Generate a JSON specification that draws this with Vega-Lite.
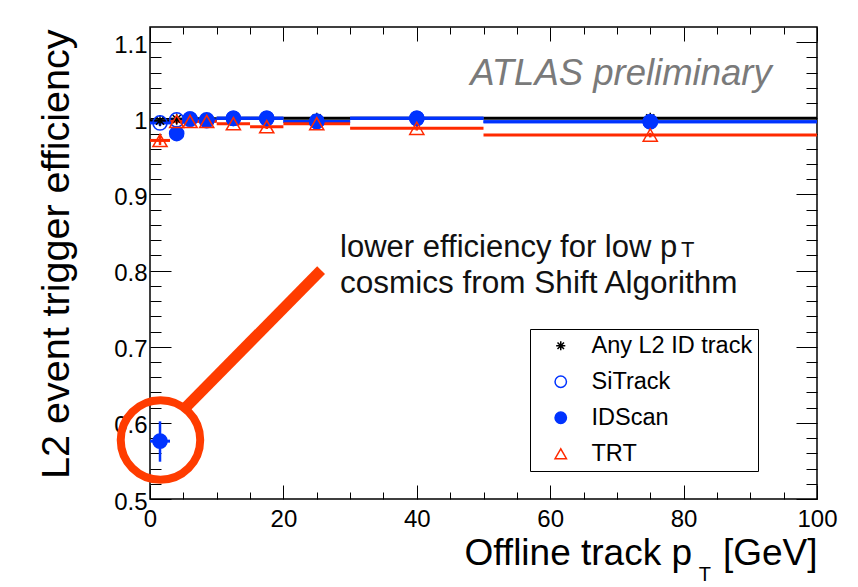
{
  "$schema": "https://vega.github.io/schema/vega-lite/v6.json",
  "width": 667,
  "height": 472,
  "autosize": {"type": "none"},
  "padding": {"left": 150, "top": 27, "right": 41, "bottom": 88},
  "background": "#ffffff",
  "config": {
    "view": {"stroke": "#000000", "strokeWidth": 1.5},
    "font": "Liberation Sans",
    "axis": {
      "domain": false, "grid": false, "tickColor": "#000000", "tickWidth": 1,
      "labelFont": "Liberation Sans", "labelColor": "#000000", "labelFontSize": 24,
      "labelFlush": false, "labelOverlap": false,
      "titleFont": "Liberation Sans", "titleColor": "#000000", "titleFontSize": 38, "titleFontWeight": "normal"
    }
  },
  "data": {"values": [
    {"s": "Any L2 ID track", "lo": 0, "hi": 3, "xc": 1.5, "eff": 0.997, "elo": 0.994, "ehi": 0.999},
    {"s": "Any L2 ID track", "lo": 3, "hi": 5, "xc": 4, "eff": 0.999, "elo": 0.997, "ehi": 1.0},
    {"s": "Any L2 ID track", "lo": 5, "hi": 7, "xc": 6, "eff": 0.9995, "elo": 0.998, "ehi": 1.0},
    {"s": "Any L2 ID track", "lo": 7, "hi": 10, "xc": 8.5, "eff": 0.9995, "elo": 0.998, "ehi": 1.0},
    {"s": "Any L2 ID track", "lo": 10, "hi": 15, "xc": 12.5, "eff": 1.0, "elo": 0.999, "ehi": 1.0},
    {"s": "Any L2 ID track", "lo": 15, "hi": 20, "xc": 17.5, "eff": 1.0, "elo": 0.999, "ehi": 1.0},
    {"s": "Any L2 ID track", "lo": 20, "hi": 30, "xc": 25, "eff": 1.0, "elo": 0.999, "ehi": 1.0},
    {"s": "Any L2 ID track", "lo": 30, "hi": 50, "xc": 40, "eff": 1.0, "elo": 0.999, "ehi": 1.0},
    {"s": "Any L2 ID track", "lo": 50, "hi": 100, "xc": 75, "eff": 1.0, "elo": 0.999, "ehi": 1.0},
    {"s": "SiTrack", "lo": 0, "hi": 3, "xc": 1.5, "eff": 0.994, "elo": 0.99, "ehi": 0.997},
    {"s": "SiTrack", "lo": 3, "hi": 5, "xc": 4, "eff": 0.998, "elo": 0.996, "ehi": 0.999},
    {"s": "SiTrack", "lo": 5, "hi": 7, "xc": 6, "eff": 0.999, "elo": 0.997, "ehi": 1.0},
    {"s": "SiTrack", "lo": 7, "hi": 10, "xc": 8.5, "eff": 0.998, "elo": 0.996, "ehi": 0.999},
    {"s": "SiTrack", "lo": 10, "hi": 15, "xc": 12.5, "eff": 1.0, "elo": 0.999, "ehi": 1.0},
    {"s": "SiTrack", "lo": 15, "hi": 20, "xc": 17.5, "eff": 1.0, "elo": 0.999, "ehi": 1.0},
    {"s": "SiTrack", "lo": 20, "hi": 30, "xc": 25, "eff": 0.996, "elo": 0.993, "ehi": 0.998},
    {"s": "SiTrack", "lo": 30, "hi": 50, "xc": 40, "eff": 1.0, "elo": 0.999, "ehi": 1.0},
    {"s": "SiTrack", "lo": 50, "hi": 100, "xc": 75, "eff": 0.9955, "elo": 0.992, "ehi": 0.998},
    {"s": "IDScan", "lo": 0, "hi": 3, "xc": 1.5, "eff": 0.576, "elo": 0.549, "ehi": 0.602},
    {"s": "IDScan", "lo": 3, "hi": 5, "xc": 4, "eff": 0.98, "elo": 0.975, "ehi": 0.985},
    {"s": "IDScan", "lo": 5, "hi": 7, "xc": 6, "eff": 0.999, "elo": 0.997, "ehi": 1.0},
    {"s": "IDScan", "lo": 7, "hi": 10, "xc": 8.5, "eff": 0.997, "elo": 0.995, "ehi": 0.999},
    {"s": "IDScan", "lo": 10, "hi": 15, "xc": 12.5, "eff": 1.0, "elo": 0.999, "ehi": 1.0},
    {"s": "IDScan", "lo": 15, "hi": 20, "xc": 17.5, "eff": 1.0, "elo": 0.999, "ehi": 1.0},
    {"s": "IDScan", "lo": 20, "hi": 30, "xc": 25, "eff": 0.996, "elo": 0.993, "ehi": 0.998},
    {"s": "IDScan", "lo": 30, "hi": 50, "xc": 40, "eff": 1.0, "elo": 0.999, "ehi": 1.0},
    {"s": "IDScan", "lo": 50, "hi": 100, "xc": 75, "eff": 0.9955, "elo": 0.992, "ehi": 0.998},
    {"s": "TRT", "lo": 0, "hi": 3, "xc": 1.5, "eff": 0.971, "elo": 0.965, "ehi": 0.977},
    {"s": "TRT", "lo": 3, "hi": 5, "xc": 4, "eff": 0.996, "elo": 0.993, "ehi": 0.998},
    {"s": "TRT", "lo": 5, "hi": 7, "xc": 6, "eff": 0.996, "elo": 0.993, "ehi": 0.998},
    {"s": "TRT", "lo": 7, "hi": 10, "xc": 8.5, "eff": 0.996, "elo": 0.993, "ehi": 0.998},
    {"s": "TRT", "lo": 10, "hi": 15, "xc": 12.5, "eff": 0.993, "elo": 0.99, "ehi": 0.996},
    {"s": "TRT", "lo": 15, "hi": 20, "xc": 17.5, "eff": 0.989, "elo": 0.986, "ehi": 0.992},
    {"s": "TRT", "lo": 20, "hi": 30, "xc": 25, "eff": 0.993, "elo": 0.99, "ehi": 0.996},
    {"s": "TRT", "lo": 30, "hi": 50, "xc": 40, "eff": 0.987, "elo": 0.984, "ehi": 0.99},
    {"s": "TRT", "lo": 50, "hi": 100, "xc": 75, "eff": 0.978, "elo": 0.975, "ehi": 0.981}
  ]},
  "resolve": {"axis": {"x": "independent", "y": "independent"}},
  "layer": [
    {
      "mark": {"type": "rule", "strokeWidth": 3},
      "encoding": {
        "x": {"field": "lo", "type": "quantitative", "scale": {"domain": [0, 100], "nice": false, "zero": false}, "axis": null},
        "x2": {"field": "hi"},
        "y": {"field": "eff", "type": "quantitative", "scale": {"domain": [0.5, 1.12], "nice": false, "zero": false}, "axis": null},
        "color": {"field": "s", "type": "nominal", "scale": {"domain": ["TRT", "IDScan", "SiTrack", "Any L2 ID track"], "range": ["#ff2a00", "#0033ff", "#0033ff", "#000000"]}, "legend": null}
      }
    },
    {
      "mark": {"type": "rule", "strokeWidth": 2.5},
      "encoding": {
        "x": {"field": "xc", "type": "quantitative", "scale": {"domain": [0, 100], "nice": false, "zero": false}, "axis": null},
        "y": {"field": "elo", "type": "quantitative", "scale": {"domain": [0.5, 1.12], "nice": false, "zero": false}, "axis": null},
        "y2": {"field": "ehi"},
        "color": {"field": "s", "type": "nominal", "scale": {"domain": ["TRT", "IDScan", "SiTrack", "Any L2 ID track"], "range": ["#ff2a00", "#0033ff", "#0033ff", "#000000"]}, "legend": null}
      }
    },
    {
      "mark": {"type": "point", "opacity": 1, "strokeWidth": 1.5, "size": 200},
      "encoding": {
        "x": {"field": "xc", "type": "quantitative", "scale": {"domain": [0, 100], "nice": false, "zero": false},
          "axis": {"orient": "bottom", "values": [0, 20, 40, 60, 80, 100], "tickSize": -14, "labelPadding": 22, "format": "d",
            "title": "Offline track p\u00a0\u00a0\u00a0[GeV]", "titleFontSize": 37, "titleX": 667, "titleY": 65, "titleAlign": "right", "titleAnchor": "end", "titleBaseline": "alphabetic"}},
        "y": {"field": "eff", "type": "quantitative", "scale": {"domain": [0.5, 1.12], "nice": false, "zero": false},
          "axis": {"orient": "left", "values": [0.5, 0.6, 0.7, 0.8, 0.9, 1, 1.1], "tickSize": -21, "labelPadding": 24, "format": "~g", "labelOffset": 3,
            "title": "L2 event trigger efficiency", "titleFontSize": 39.5, "titleX": -81.7, "titleY": 2, "titleAngle": 270, "titleAlign": "right", "titleAnchor": "end", "titleBaseline": "alphabetic"}},
        "stroke": {"field": "s", "type": "nominal", "scale": {"domain": ["Any L2 ID track", "SiTrack", "IDScan", "TRT"], "range": ["#000000", "#0033ff", "#0033ff", "#ff2a00"]},
          "legend": {"orient": "none", "legendX": 380, "legendY": 302, "title": null, "strokeColor": "#000000", "fillColor": "#ffffff", "padding": 5, "symbolOffset": 14, "labelOffset": 19, "rowPadding": 11, "labelFontSize": 23.5, "labelLimit": 400, "labelFont": "Liberation Sans", "labelColor": "#000000", "symbolSize": 130, "symbolStrokeWidth": 1.5}},
        "fill": {"field": "s", "type": "nominal", "scale": {"domain": ["Any L2 ID track", "SiTrack", "IDScan", "TRT"], "range": ["#000000", "transparent", "#0033ff", "transparent"]},
          "legend": {"orient": "none", "legendX": 380, "legendY": 302, "title": null, "strokeColor": "#000000", "fillColor": "#ffffff", "padding": 5, "symbolOffset": 14, "labelOffset": 19, "rowPadding": 11, "labelFontSize": 23.5, "labelLimit": 400, "labelFont": "Liberation Sans", "labelColor": "#000000", "symbolSize": 130, "symbolStrokeWidth": 1.5}},
        "shape": {"field": "s", "type": "nominal", "scale": {"domain": ["Any L2 ID track", "SiTrack", "IDScan", "TRT"], "range": ["M0,-0.8L0,0.8M-0.8,0L0.8,0M-0.57,-0.57L0.57,0.57M-0.57,0.57L0.57,-0.57", "circle", "circle", "triangle-up"]},
          "legend": {"orient": "none", "legendX": 380, "legendY": 302, "title": null, "strokeColor": "#000000", "fillColor": "#ffffff", "padding": 5, "symbolOffset": 14, "labelOffset": 19, "rowPadding": 11, "labelFontSize": 23.5, "labelLimit": 400, "labelFont": "Liberation Sans", "labelColor": "#000000", "symbolSize": 130, "symbolStrokeWidth": 1.5}}
      }
    },
    {
      "mark": {"type": "point", "opacity": 0},
      "encoding": {
        "x": {"field": "xc", "type": "quantitative", "scale": {"domain": [0, 100], "nice": false, "zero": false},
          "axis": {"orient": "bottom", "values": [5, 10, 15, 25, 30, 35, 45, 50, 55, 65, 70, 75, 85, 90, 95], "tickSize": -7, "labels": false, "title": null}},
        "y": {"field": "eff", "type": "quantitative", "scale": {"domain": [0.5, 1.12], "nice": false, "zero": false},
          "axis": {"orient": "left", "values": [0.52, 0.54, 0.56, 0.58, 0.62, 0.64, 0.66, 0.68, 0.72, 0.74, 0.76, 0.78, 0.82, 0.84, 0.86, 0.88, 0.92, 0.94, 0.96, 0.98, 1.02, 1.04, 1.06, 1.08], "tickSize": -11, "labels": false, "title": null}}
      }
    },
    {
      "mark": {"type": "point", "opacity": 0},
      "encoding": {
        "x": {"field": "xc", "type": "quantitative", "scale": {"domain": [0, 100], "nice": false, "zero": false},
          "axis": {"orient": "top", "values": [0, 20, 40, 60, 80, 100], "tickSize": -14, "labels": false, "title": null}},
        "y": {"field": "eff", "type": "quantitative", "scale": {"domain": [0.5, 1.12], "nice": false, "zero": false},
          "axis": {"orient": "right", "values": [0.5, 0.6, 0.7, 0.8, 0.9, 1, 1.1], "tickSize": -21, "labels": false, "title": null}}
      }
    },
    {
      "mark": {"type": "point", "opacity": 0},
      "encoding": {
        "x": {"field": "xc", "type": "quantitative", "scale": {"domain": [0, 100], "nice": false, "zero": false},
          "axis": {"orient": "top", "values": [5, 10, 15, 25, 30, 35, 45, 50, 55, 65, 70, 75, 85, 90, 95], "tickSize": -7, "labels": false, "title": null}},
        "y": {"field": "eff", "type": "quantitative", "scale": {"domain": [0.5, 1.12], "nice": false, "zero": false},
          "axis": {"orient": "right", "values": [0.52, 0.54, 0.56, 0.58, 0.62, 0.64, 0.66, 0.68, 0.72, 0.74, 0.76, 0.78, 0.82, 0.84, 0.86, 0.88, 0.92, 0.94, 0.96, 0.98, 1.02, 1.04, 1.06, 1.08], "tickSize": -11, "labels": false, "title": null}}
      }
    },
    {
      "data": {"values": [{}]},
      "mark": {"type": "text", "text": "ATLAS preliminary", "align": "left", "baseline": "alphabetic", "fontSize": 36.5, "fontStyle": "italic", "font": "Liberation Sans", "color": "#7a7a7a"},
      "encoding": {
        "x": {"datum": 48, "type": "quantitative", "scale": {"domain": [0, 100], "nice": false, "zero": false}, "axis": null},
        "y": {"datum": 1.0433, "type": "quantitative", "scale": {"domain": [0.5, 1.12], "nice": false, "zero": false}, "axis": null}
      }
    },
    {
      "data": {"values": [{}]},
      "mark": {"type": "text", "text": "lower efficiency for low p", "align": "left", "baseline": "alphabetic", "fontSize": 31, "font": "Liberation Sans", "color": "#111111"},
      "encoding": {
        "x": {"datum": 28.5, "type": "quantitative", "scale": {"domain": [0, 100], "nice": false, "zero": false}, "axis": null},
        "y": {"datum": 0.818, "type": "quantitative", "scale": {"domain": [0.5, 1.12], "nice": false, "zero": false}, "axis": null}
      }
    },
    {
      "data": {"values": [{}]},
      "mark": {"type": "text", "text": "cosmics from Shift Algorithm", "align": "left", "baseline": "alphabetic", "fontSize": 31.5, "font": "Liberation Sans", "color": "#111111"},
      "encoding": {
        "x": {"datum": 28.5, "type": "quantitative", "scale": {"domain": [0, 100], "nice": false, "zero": false}, "axis": null},
        "y": {"datum": 0.7707, "type": "quantitative", "scale": {"domain": [0.5, 1.12], "nice": false, "zero": false}, "axis": null}
      }
    },
    {
      "data": {"values": [{}]},
      "mark": {"type": "text", "text": "T", "align": "left", "baseline": "alphabetic", "fontSize": 22, "font": "Liberation Sans", "color": "#111111"},
      "encoding": {
        "x": {"datum": 79.6, "type": "quantitative", "scale": {"domain": [0, 100], "nice": false, "zero": false}, "axis": null},
        "y": {"datum": 0.8176, "type": "quantitative", "scale": {"domain": [0.5, 1.12], "nice": false, "zero": false}, "axis": null}
      }
    },
    {
      "data": {"values": [{}]},
      "mark": {"type": "text", "text": "T", "align": "center", "baseline": "alphabetic", "fontSize": 20, "font": "Liberation Sans", "color": "#000000"},
      "encoding": {
        "x": {"datum": 83.2, "type": "quantitative", "scale": {"domain": [0, 100], "nice": false, "zero": false}, "axis": null},
        "y": {"datum": 0.3925, "type": "quantitative", "scale": {"domain": [0.5, 1.12], "nice": false, "zero": false}, "axis": null}
      }
    },
    {
      "data": {"values": [{}]},
      "mark": {"type": "rule", "strokeWidth": 11, "color": "#ff3c00", "strokeCap": "butt"},
      "encoding": {
        "x": {"datum": 25.65, "type": "quantitative", "scale": {"domain": [0, 100], "nice": false, "zero": false}, "axis": null},
        "y": {"datum": 0.8005, "type": "quantitative", "scale": {"domain": [0.5, 1.12], "nice": false, "zero": false}, "axis": null},
        "x2": {"datum": 5.25},
        "y2": {"datum": 0.6194}
      }
    },
    {
      "data": {"values": [{}]},
      "mark": {"type": "point", "shape": "circle", "size": 6320, "strokeWidth": 8, "color": "#ff3c00", "filled": false, "opacity": 1},
      "encoding": {
        "x": {"datum": 1.57, "type": "quantitative", "scale": {"domain": [0, 100], "nice": false, "zero": false}, "axis": null},
        "y": {"datum": 0.5775, "type": "quantitative", "scale": {"domain": [0.5, 1.12], "nice": false, "zero": false}, "axis": null}
      }
    }
  ]
}
